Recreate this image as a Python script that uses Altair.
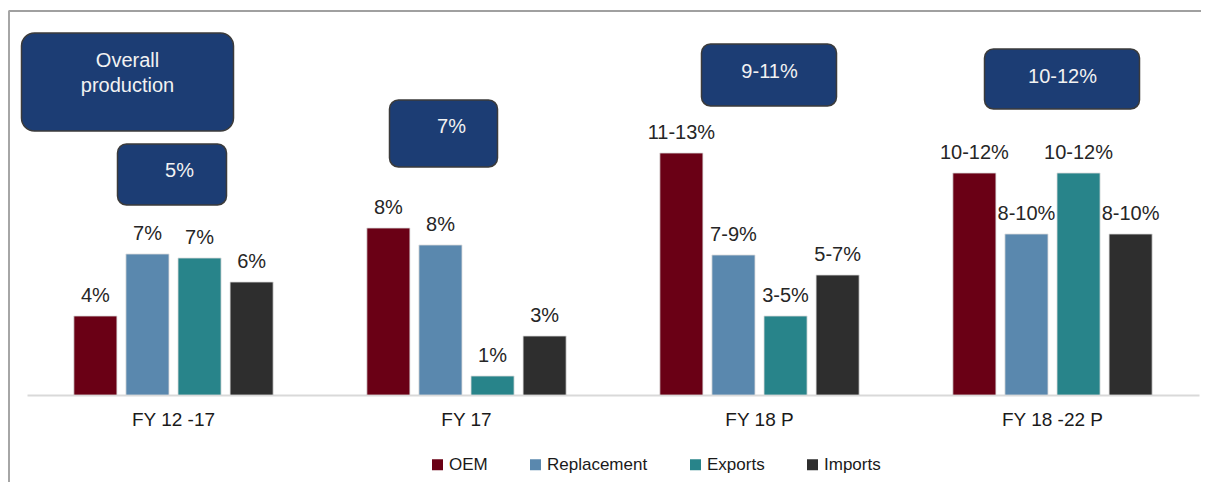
import altair as alt
import pandas as pd

# ---- data ----
groups = ["FY 12 -17", "FY 17", "FY 18 P", "FY 18 -22 P"]
series = ["OEM", "Replacement", "Exports", "Imports"]
oem = [3.95, 8.35, 12.1, 11.1]
replacement = [7.05, 7.5, 7.0, 8.05]
exports = [6.85, 0.95, 3.95, 11.1]
imports = [5.65, 2.95, 6.0, 8.05]
oem_lbl = ["4%", "8%", "11-13%", "10-12%"]
replacement_lbl = ["7%", "8%", "7-9%", "8-10%"]
exports_lbl = ["7%", "1%", "3-5%", "10-12%"]
imports_lbl = ["6%", "3%", "5-7%", "8-10%"]
colors = ["#6a0015", "#5a88ae", "#28848a", "#2e2e2e"]

box_groups = ["FY 12 -17", "FY 12 -17", "FY 17", "FY 18 P", "FY 18 -22 P"]
box_labels = ["Overall\nproduction", "5%", "7%", "9-11%", "10-12%"]

rows = []
for s, vals, lbls in zip(series, [oem, replacement, exports, imports],
                         [oem_lbl, replacement_lbl, exports_lbl, imports_lbl]):
    for g, v, l in zip(groups, vals, lbls):
        rows.append({"group": g, "series": s, "value": v, "label": l})
df = pd.DataFrame(rows)

# ---- layout (styles / positions of annotation boxes, in px) ----
W, H = 1172, 383
FONT = "Liberation Sans"
box_layout = [
    # width, xOffset, top, bottom, text dx, text baseline y, radius
    (212, -46, 21, 119, -46, 55, 13),
    (109, -1.5, 132, 193, 6, 165, 9),
    (108, -23, 88, 155, -15, 121, 9),
    (135, 9.5, 32, 94, 10, 66, 9),
    (155, 9.5, 37, 97, 10, 71, 9),
]

xscale = alt.Scale(domain=groups, paddingInner=0, paddingOuter=0)
yscale = alt.Scale(domain=[0, 19.15], nice=False, zero=True)

base = alt.Chart(df).encode(
    x=alt.X("group:N", sort=groups, scale=xscale,
            axis=alt.Axis(title=None, labelAngle=0, ticks=False, domain=True,
                          domainColor="#d9d9d9", domainWidth=2,
                          labelFont=FONT, labelFontSize=19, labelColor="#1a1a1a",
                          labelPadding=15)),
    xOffset=alt.XOffset("series:N", sort=series,
                        scale=alt.Scale(paddingInner=0.173, paddingOuter=0.9)),
    y=alt.Y("value:Q", scale=yscale, axis=None),
)

bars = base.mark_bar(stroke="#dcdcdc", strokeWidth=0.8).encode(
    color=alt.Color("series:N", sort=series,
                    scale=alt.Scale(domain=series, range=colors),
                    legend=alt.Legend(title=None, orient="none", legendX=402,
                                      legendY=444, direction="horizontal",
                                      columns=4, symbolType="square",
                                      symbolSize=121, symbolStrokeWidth=0,
                                      labelFont=FONT, labelFontSize=17,
                                      labelColor="#1a1a1a", columnPadding=39,
                                      labelOffset=3, padding=0))
)

labels = base.mark_text(font=FONT, fontSize=20, color="#262626",
                        baseline="alphabetic", dy=-14).encode(text="label:N")

layers = [bars, labels]

for g, lbl, (bw, bxo, top, bot, tdx, ty, rad) in zip(box_groups, box_labels, box_layout):
    bdf = pd.DataFrame({"group": [g], "label": [lbl]})
    box = alt.Chart(bdf).mark_bar(width=bw, xOffset=bxo, cornerRadius=rad,
                                  fill="#1c3d74", stroke="#3b3b3b",
                                  strokeWidth=1.5).encode(
        x=alt.X("group:N", sort=groups, scale=xscale),
        y=alt.value(top), y2=alt.value(bot))
    txt = alt.Chart(bdf).mark_text(font=FONT, fontSize=20, color="#f2f2f2",
                                   dx=tdx, baseline="alphabetic",
                                   lineBreak="\n", lineHeight=25).encode(
        x=alt.X("group:N", sort=groups, scale=xscale),
        y=alt.value(ty), text="label:N")
    layers += [box, txt]

# frame lines (decoration)
frame_df = pd.DataFrame({"k": [0]})
frame_top = alt.Chart(frame_df).mark_rule(color="#a0a0a0", strokeWidth=2).encode(
    x=alt.value(-18.5), x2=alt.value(1176), y=alt.value(-1))
frame_left = alt.Chart(frame_df).mark_rule(color="#a6a6a6", strokeWidth=2).encode(
    x=alt.value(-18), y=alt.value(-1), y2=alt.value(470))
layers += [frame_top, frame_left]

chart = alt.layer(*layers).properties(
    width=W, height=H,
    autosize=alt.AutoSizeParams(type="none"),
    padding={"left": 19, "top": 4, "right": 2, "bottom": 87},
    background="white",
).configure_view(strokeWidth=0, stroke="transparent")

chart.save("out.html", embed_options={"renderer": "svg", "actions": False})
